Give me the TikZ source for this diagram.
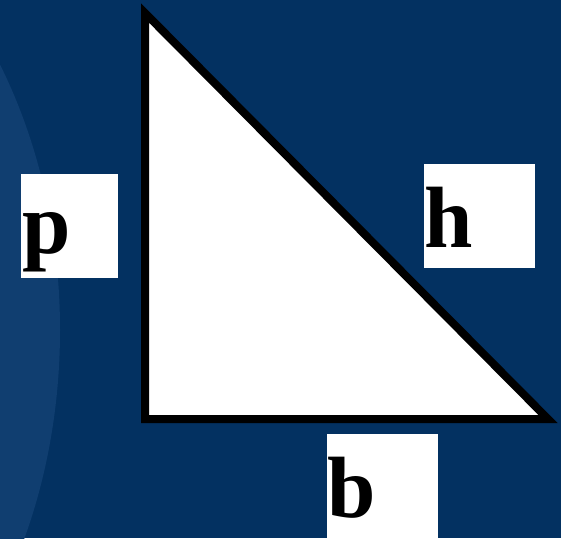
\documentclass[tikz,border=0pt]{standalone}
\usepackage{fontspec}
\setmainfont{Liberation Serif}
\definecolor{bgblue}{RGB}{3,49,97}
\definecolor{arcblue}{RGB}{16,62,112}
\begin{document}
\begin{tikzpicture}[x=1pt,y=-1pt,
  lbox/.style={fill=white, draw=none, inner sep=0pt, anchor=north west},
  letter/.style={font=\fontsize{87}{87}\selectfont\bfseries, inner sep=0pt, anchor=base west, text=black},
  tri/.style={draw=black, fill=white, line width=8pt, line join=miter}]
% background
\fill[bgblue] (0,0) rectangle (561,538);
\useasboundingbox (0,0) rectangle (561,538);
\begin{scope}
  \clip (0,0) rectangle (561,538);
  \fill[arcblue] (-300,330) ellipse[x radius=360, y radius=480];
\end{scope}
% triangle
\coordinate (A) at (145,13);
\coordinate (B) at (145,419);
\coordinate (C) at (548,419);
\draw[tri] (A) -- (B) -- (C) -- cycle;
% label boxes
\node[lbox, minimum width=97pt, minimum height=104pt] (pbox) at (21,174) {};
\node[lbox, minimum width=111pt, minimum height=104pt] (hbox) at (424,164) {};
\node[lbox, minimum width=111pt, minimum height=104pt] (bbox) at (327,434) {};
% letters
\node[letter] (p) at (22,253) {p};
\node[letter] (h) at (424,247) {h};
\node[letter] (b) at (327,517) {b};
\end{tikzpicture}
\end{document}
